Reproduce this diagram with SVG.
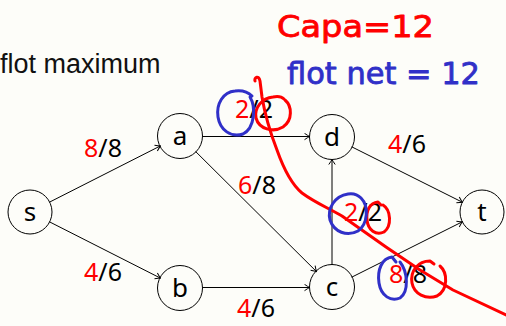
<svg xmlns="http://www.w3.org/2000/svg" width="506" height="326" viewBox="0 0 506 326">
<style>
.node circle{fill:none;stroke:#000;stroke-width:1}
.node text{font-family:"Noto Sans","DejaVu Sans",sans-serif;font-size:26px;text-anchor:middle;fill:#000}
.edges line{stroke:#000;stroke-width:1;marker-end:url(#arr)}
.lbl{font-family:"Noto Sans","DejaVu Sans",sans-serif;font-size:25px;text-anchor:middle;fill:#000}
.f{fill:#f00}
.title{font-family:"Liberation Sans",Arial,sans-serif;font-size:27px;fill:#111}
.red{fill:none;stroke:#f00;stroke-width:3;stroke-linecap:round;stroke-linejoin:round}
.blue{fill:none;stroke:#3030c8;stroke-width:3;stroke-linecap:round;stroke-linejoin:round}
.hand{font-family:"DejaVu Sans",sans-serif;font-size:30px;stroke-width:0.8;stroke-linejoin:round}
</style>
<defs>
<marker id="arr" viewBox="-6 -4 7 8" markerWidth="7" markerHeight="8" refX="0" refY="0" orient="auto" markerUnits="userSpaceOnUse">
<path d="M-5,-3.2 Q-1.5,-0.8 0,0 Q-1.5,0.8 -5,3.2" fill="none" stroke="#000" stroke-width="1"/>
</marker>
</defs>
<rect width="506" height="326" fill="#fdfdf9"/>
<text class="title" x="0" y="73">flot maximum</text>

<g class="edges" id="edges">
<line x1="49.6" y1="202.1" x2="160.4" y2="145.9"/>
<line x1="49.6" y1="221.9" x2="160.4" y2="278.1"/>
<line x1="202.5" y1="136.5" x2="309.5" y2="136.5"/>
<line x1="195.6" y1="151.5" x2="316.4" y2="271.5"/>
<line x1="202.5" y1="287.5" x2="309.5" y2="287.5"/>
<line x1="332" y1="265" x2="332" y2="159.5"/>
<line x1="351.7" y1="146.8" x2="462.3" y2="202.2"/>
<line x1="351.7" y1="277.2" x2="462.3" y2="221.8"/>
</g>

<g id="node-s" class="node"><circle cx="30" cy="212" r="22"/><text x="30" y="221">s</text></g>
<g id="node-a" class="node"><circle cx="180" cy="136" r="22.5"/><text x="180" y="145">a</text></g>
<g id="node-b" class="node"><circle cx="180" cy="288" r="22.5"/><text x="180" y="297">b</text></g>
<g id="node-d" class="node"><circle cx="332" cy="137" r="22.5"/><text x="332" y="146">d</text></g>
<g id="node-c" class="node"><circle cx="332" cy="287" r="22.5"/><text x="332" y="296">c</text></g>
<g id="node-t" class="node"><circle cx="482" cy="212" r="22"/><text x="482" y="221">t</text></g>

<g id="labels">
<text class="lbl" x="103" y="157"><tspan class="f">8</tspan>/8</text>
<text class="lbl" x="103" y="281"><tspan class="f">4</tspan>/6</text>
<text class="lbl" x="254" y="118"><tspan class="f">2</tspan>/2</text>
<text class="lbl" x="257" y="194"><tspan class="f">6</tspan>/8</text>
<text class="lbl" x="256" y="317"><tspan class="f">4</tspan>/6</text>
<text class="lbl" x="407" y="153"><tspan class="f">4</tspan>/6</text>
<text class="lbl" x="363" y="221"><tspan class="f">2</tspan>/2</text>
<text class="lbl" x="408" y="283"><tspan class="f">8</tspan>/8</text>
</g>

<g id="annotations">
<text class="hand" x="277" y="37" fill="#f00" stroke="#f00" textLength="157" lengthAdjust="spacingAndGlyphs">Capa=12</text>
<text class="hand" x="287" y="84" fill="#3030c8" stroke="#3030c8" textLength="193" lengthAdjust="spacingAndGlyphs">flot net = 12</text>
<path class="red" d="M255,81 C254,77 259,75 260,81 L262,97 C265,115 270,132 277,150 C283,167 290,183 302,193 C314,202 328,208 342,216 L386,247 L420,270 L453,290 L506,315"/>
<path class="red" d="M285,100 C292,106 293,120 283,127 C273,133 259,129 256,118 C254,108 262,98 273,97 C278,96 282,97 284,99"/>
<path class="red" d="M383,205 C391,210 392,226 384,232 C376,236 368,230 367,220 C366,210 370,203 378,202 L381,205"/>
<path class="red" d="M440,266 C448,273 448,290 437,296 C426,300 414,294 412,283 C410,271 418,261 430,261 L434,264"/>
<path class="blue" d="M250,97 C256,107 255,128 243,134 C231,138 220,130 218,117 C216,104 223,92 235,91 C243,90 249,93 252,96"/>
<path class="blue" d="M361,198 C369,206 368,224 358,231 C347,237 334,232 330,220 C327,208 335,196 348,194 C354,193 358,195 361,198"/>
<path class="blue" d="M400,262 C408,272 409,292 400,298 C391,302 381,296 379,283 C377,270 382,258 392,257 L396,262"/>
</g>
</svg>
